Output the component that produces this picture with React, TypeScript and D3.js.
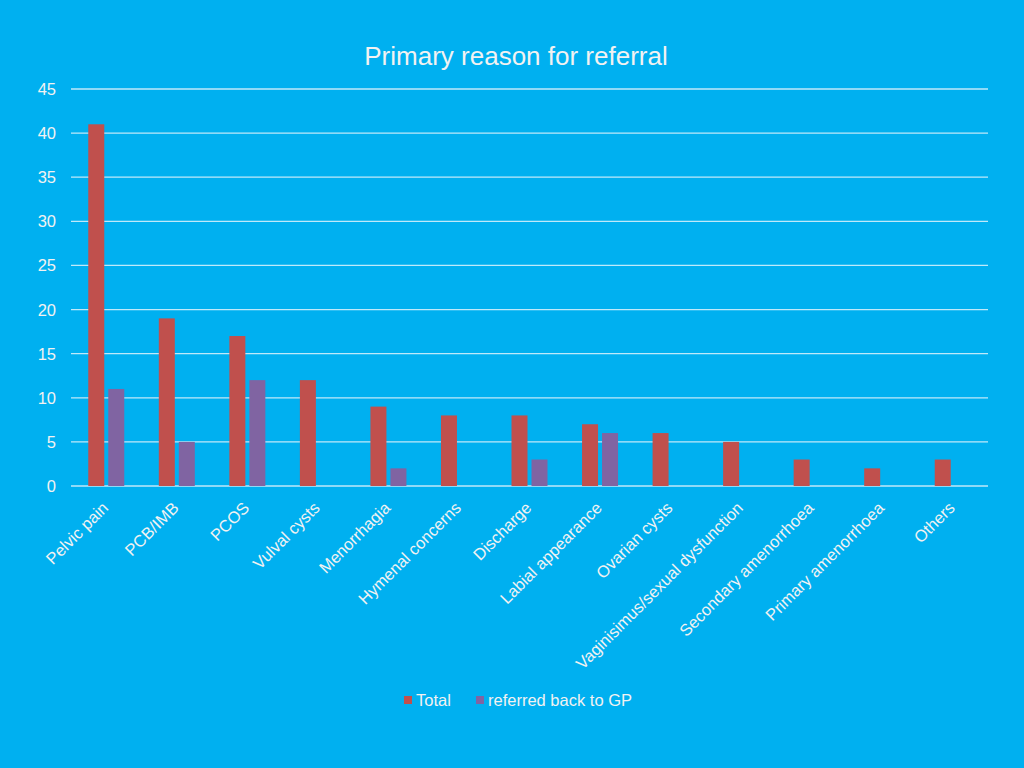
import React from "react";
import * as d3 from "d3";

const categories = [
  "Pelvic pain", "PCB/IMB", "PCOS", "Vulval cysts", "Menorrhagia", "Hymenal concerns",
  "Discharge", "Labial appearance", "Ovarian cysts", "Vaginisimus/sexual dysfunction",
  "Secondary amenorrhoea", "Primary amenorrhoea", "Others",
];
const totalValues = [41, 19, 17, 12, 9, 8, 8, 7, 6, 5, 3, 2, 3];
const referredValues = [11, 5, 12, 0, 2, 0, 3, 6, 0, 0, 0, 0, 0];
const yTicks = [0, 5, 10, 15, 20, 25, 30, 35, 40, 45];
const seriesNames = ["Total", "referred back to GP"];
const seriesColors = ["#C0504D", "#8064A2"];

const W = 1024, H = 768;
const left = 71, right = 988, top = 89, bottom = 486;
const font = "'Liberation Sans', Arial, sans-serif";
const textColor = "#F2F2F2";
const fs = 16.5;

export default function App() {
  const x = d3.scaleBand<string>().domain(categories).range([left, right]);
  const y = d3.scaleLinear().domain([0, 45]).range([bottom, top]);
  const bw = 16;
  const gap = 4;
  const series = [totalValues, referredValues];
  return (
    <svg width={W} height={H} style={{ position: "absolute", left: 0, top: 0, display: "block" }}>
      <rect x={0} y={0} width={W} height={H} fill="#00B0F0" />
      <text x={516} y={65} textAnchor="middle" fontFamily={font} fontSize={26} fill={textColor}>
        Primary reason for referral
      </text>
      {yTicks.map((t) => (
        <g key={t}>
          <line x1={left} x2={right} y1={y(t)} y2={y(t)} stroke="#BFE9FA" strokeWidth={1.3} />
          <text x={56} y={y(t) + 6} textAnchor="end" fontFamily={font} fontSize={fs} fill={textColor}>
            {t}
          </text>
        </g>
      ))}
      {series.map((vals, si) =>
        vals.map((v, i) => {
          if (v === 0) return null;
          const c = (x(categories[i]) as number) + x.bandwidth() / 2;
          const bx = si === 0 ? c - gap / 2 - bw : c + gap / 2;
          return (
            <rect key={si + "-" + i} x={bx} y={y(v)} width={bw} height={y(0) - y(v)} fill={seriesColors[si]} />
          );
        })
      )}
      {categories.map((cat) => {
        const c = (x(cat) as number) + x.bandwidth() / 2;
        return (
          <text
            key={cat}
            transform={`translate(${c + 3},${bottom + 23}) rotate(-45)`}
            textAnchor="end"
            fontFamily={font}
            fontSize={fs}
            fill={textColor}
          >
            {cat}
          </text>
        );
      })}
      {seriesNames.map((n, i) => {
        const lx = i === 0 ? 404 : 476;
        return (
          <g key={n}>
            <rect x={lx} y={696} width={8} height={8} fill={seriesColors[i]} />
            <text x={lx + 12} y={706} fontFamily={font} fontSize={fs} fill={textColor}>
              {n}
            </text>
          </g>
        );
      })}
    </svg>
  );
}
